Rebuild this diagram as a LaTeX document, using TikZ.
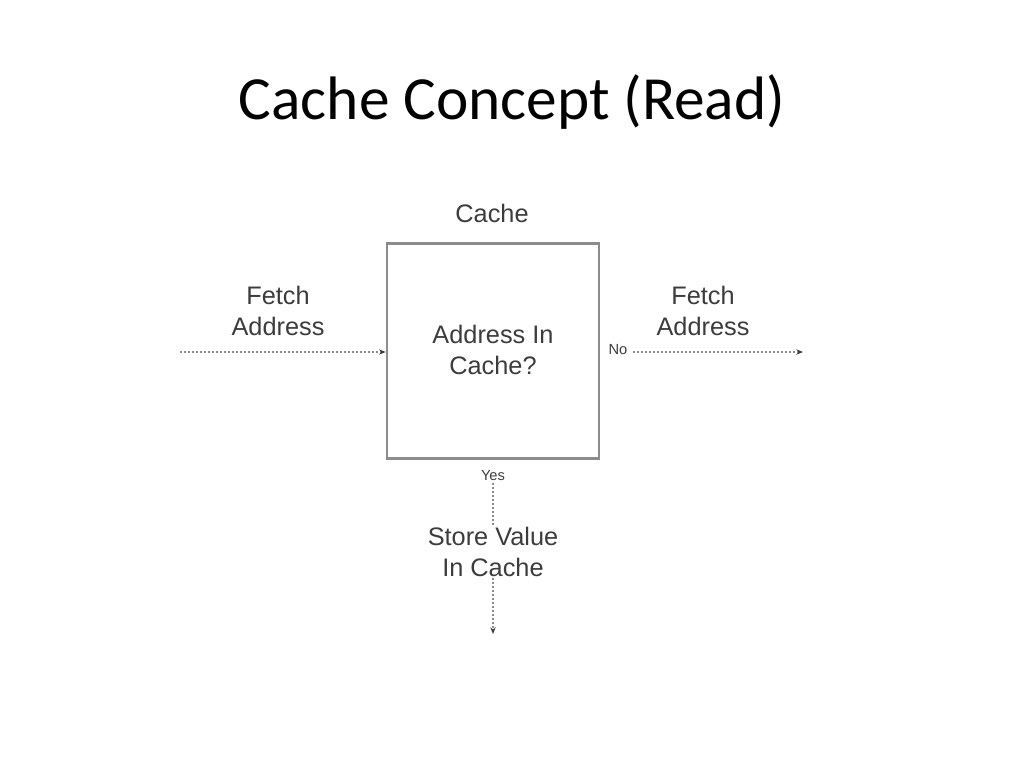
\documentclass[tikz,border=0pt]{standalone}
\usepackage{fontspec}
\setmainfont{Liberation Sans}
\newfontfamily\titlefont{Carlito}
\usetikzlibrary{arrows.meta,positioning}
\definecolor{txtgray}{RGB}{60,60,60}
\definecolor{linegray}{RGB}{140,140,140}
\tikzstyle{every node}=[font=\fontsize{19}{21}\selectfont,text=txtgray,align=center,inner sep=1pt]
\tikzstyle{flow}=[linegray,line width=1.2pt,dash pattern=on 1.5pt off 1.5pt,-{Stealth[length=5pt,width=4pt,color=txtgray]}]
\tikzstyle{small}=[font=\fontsize{11}{13}\selectfont]
\begin{document}
\begin{tikzpicture}[x=0.75pt,y=-0.75pt]
\useasboundingbox (0,0) rectangle (1024,768);
%Title
	\node[font=\titlefont\fontsize{46}{55}\selectfont,text=black] (title) at (512,102) {Cache Concept (Read)};
%Cache box
	\node[draw=linegray,line width=2pt,minimum width=159pt,minimum height=161pt,inner sep=0pt] (cache) at (493,351) {};
	\node (cachelbl) at (492,213) {Cache};
	\node (test) at (493,350) {Address In\\[2pt]Cache?};
%Input (left)
	\coordinate (in) at (180,352);
	\node (fetchin) at (278,311) {Fetch\\[2pt]Address};
	\draw[flow] (in) -- (cache.west |- in);
%Miss (right)
	\node[small,anchor=west] (no) at (607,350) {No};
	\node (fetchout) at (703,311) {Fetch\\[2pt]Address};
	\coordinate (out) at (803,352);
	\draw[flow,shorten <=3pt] (no.east |- out) -- (out);
%Hit (down)
	\node[small] (yes) at (493,476) {Yes};
	\node (store) at (493,552) {Store Value\\[2pt]In Cache};
	\coordinate (hit) at (493,634);
	\draw[flow,-] (yes) -- (store);
	\draw[flow] (store) -- (hit);
\end{tikzpicture}
\end{document}
